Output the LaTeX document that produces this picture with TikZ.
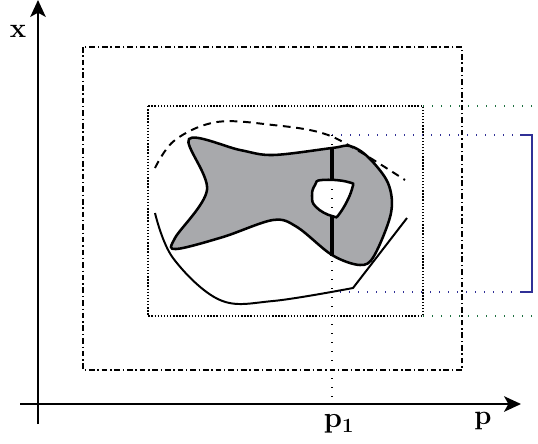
\documentclass[tikz,border=0pt]{standalone}
\usetikzlibrary{arrows.meta}
\definecolor{FishGray}{RGB}{168,169,172}
\definecolor{BandBlue}{RGB}{48,48,150}
\definecolor{BandGreen}{RGB}{30,112,64}

\begin{document}
\begin{tikzpicture}[
    x=0.025cm, y=-0.025cm,
    axis/.style={-{Stealth[length=12pt, width=11pt, inset=3pt]}, line width=1.5pt},
    axislabel/.style={font=\fontsize{19.5}{23}\selectfont\bfseries},
    outer/.style={line width=1.1pt, dash pattern=on 4pt off 2pt on 1pt off 2pt},
    inner/.style={line width=1.1pt, dash pattern=on 1pt off 1.2pt},
    band/.style={line width=1.1pt, dash pattern=on 1pt off 5.4pt},
    outline/.style={line width=1.8pt},
    bar/.style={line width=3pt},
    hull/.style={line width=1.4pt}
  ]
    \useasboundingbox (0,0) rectangle (538,443);

    % axes
    \coordinate (origin) at (38,404);
    \coordinate (xtip) at (38,0);
    \coordinate (xfoot) at (38,424);
    \coordinate (ptip) at (521,404);
    \coordinate (pfoot) at (20,404);
    \draw[axis] (xfoot) -- (xtip);
    \draw[axis] (pfoot) -- (ptip);
    \node[axislabel] (xlab) at (18,31) {x};
    \node[axislabel] (plab) at (483,421) {p};
    \node[axislabel] (p1lab) at (339,424) {$\mathbf{p}_{\mathbf{1}}$};

    % boxes
    \draw[outer] (83,47) rectangle (462,370);
    \draw[inner] (148,106) rectangle (423,316);

    % bands to the right
    \draw[band, BandGreen] (423,106) -- (538,106);
    \draw[band, BandGreen] (423,316) -- (538,316);
    \draw[band, BandBlue] (332,135) -- (520,135);
    \draw[band, BandBlue] (340,292) -- (520,292);
    \draw[line width=1.4pt, BandBlue] (520,135) -- (532,135) -- (532,292) -- (520,292);
    \draw[band] (332,135) -- (origin -| 332,0);

    % the set
    \fill[FishGray, even odd rule, draw=black, outline]
      plot[smooth cycle, tension=0.55] coordinates {
        (189,139) (240,150) (273,155) (332,148) (350,146) (368,157)
        (388,183) (391,213) (374,256) (360,265) (332,255) (297,227)
        (273,220) (223,237) (176,249) (175,238) (207,190)}
      plot[smooth cycle, tension=0.8] coordinates {
        (322,180) (348,182) (352,189) (340,213) (332,216) (316,207)
        (312,196) (315,185)};
    \draw[bar] (332,148) -- (332,180);
    \draw[bar] (332,216) -- (332,256);

    % dashed upper bound
    \draw[hull, dash pattern=on 5.5pt off 4pt]
      plot[smooth, tension=0.6] coordinates {
        (155,168) (175,140) (217,122) (273,125) (322,133) (357,150) (405,180)};
    % solid lower bound
    \draw[hull]
      plot[smooth, tension=0.6] coordinates {
        (155,213) (173,258) (220,300) (273,301) (353,288)}
      -- (407,218);
\end{tikzpicture}
\end{document}
